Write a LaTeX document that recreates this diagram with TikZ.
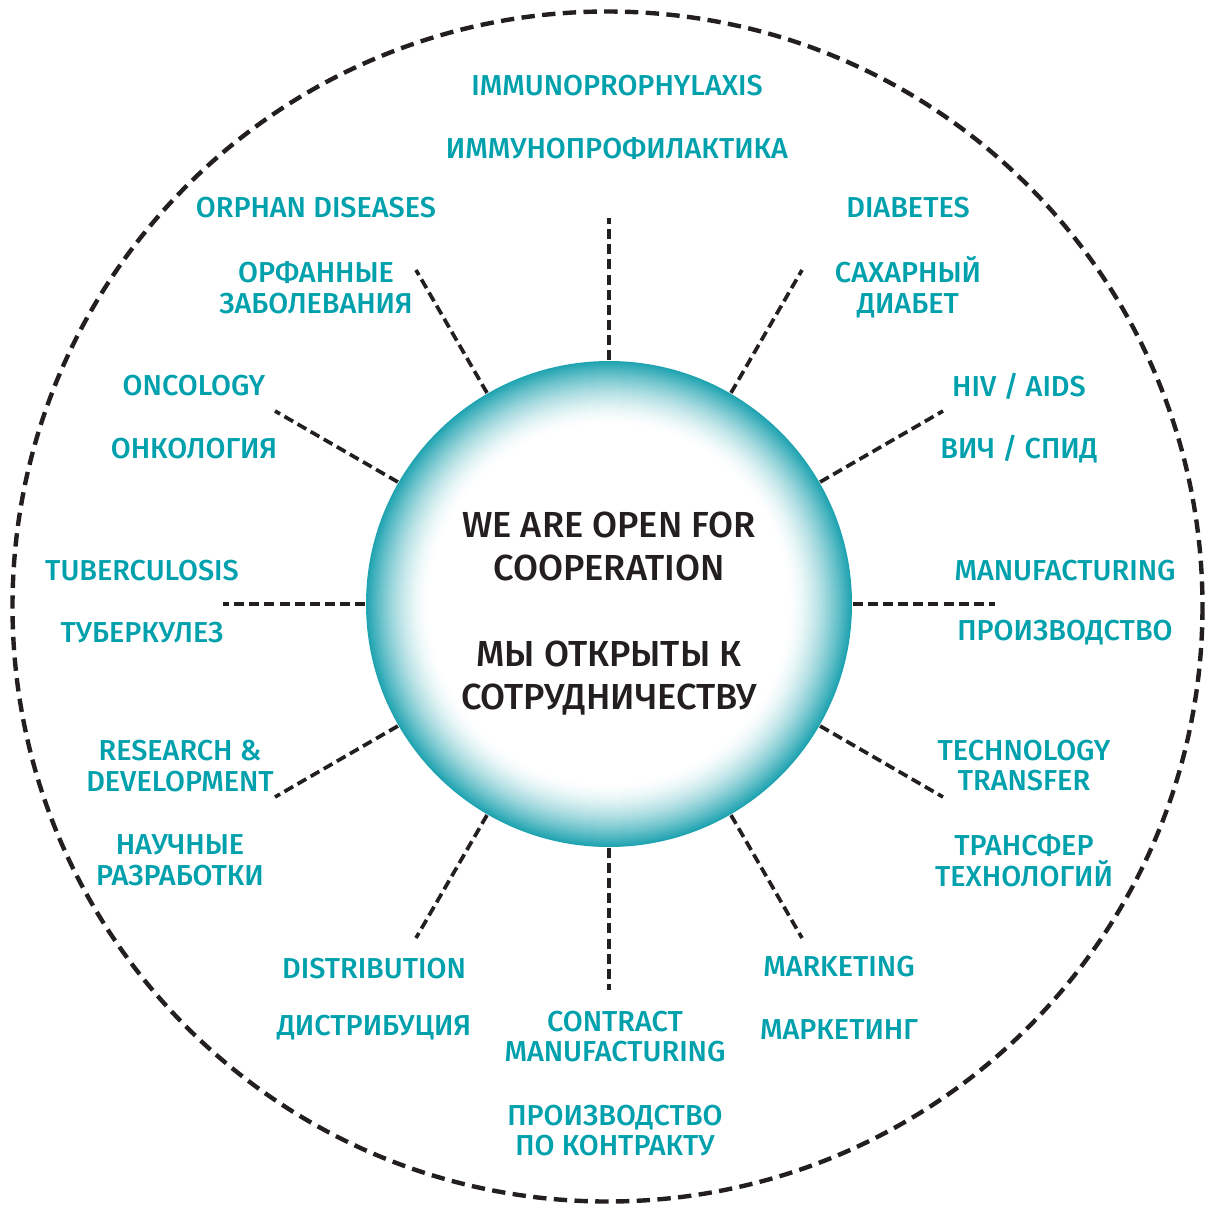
\documentclass[tikz,border=0pt]{standalone}
\usepackage{fontspec}
\setmainfont{Fira Sans}
\newfontfamily\semifont{Fira Sans}[UprightFont=* Medium]
\usepackage{xcolor}
\usepackage{tikz}
\definecolor{myteal}{RGB}{0,160,172}
\definecolor{myring}{RGB}{30,163,176}
\definecolor{myblack}{RGB}{35,31,32}
\tikzstyle{lbl} = [myteal,align=center,inner sep=0pt,font=\semifont\fontsize{8.2}{8.8}\selectfont]
\tikzstyle{midtxt} = [myblack,align=center,inner sep=0pt,font=\semifont\fontsize{10.3}{12.2}\selectfont]
\tikzstyle{spoke} = [myblack,line width=1.05pt,dash pattern=on 2.85pt off 1.45pt]
\tikzstyle{rim} = [myblack,line width=1.25pt,dash pattern=on 3.8pt off 2.1pt]

\begin{document}
\begin{tikzpicture}[x=0.01cm,y=-0.01cm]
        \useasboundingbox (0,0) rectangle (1206,1208);
        % outer ring
        \draw[rim] (607.5,606.5) circle (595);
        % hub
        \node[circle,minimum size=4.86cm,inner sep=0pt] (hub) at (609,604) {};
        \foreach \r in {243,242,...,180}{
            \pgfmathsetmacro\p{100*((\r-180)/63)^1.6}
            \fill[myring!\p!white] (hub.center) circle (\r);
        }
        \draw (609,546.5) node[midtxt] (coopEn) {WE ARE OPEN FOR\\COOPERATION};
        \draw (609,678.5) node[midtxt] (coopRu) {МЫ ОТКРЫТЫ К\\СОТРУДНИЧЕСТВУ};
        % spoke ends
        \coordinate (s90) at (609,218);
        \coordinate (s60) at (802,270);
        \coordinate (s30) at (943,411);
        \coordinate (s0) at (995,604);
        \coordinate (s-30) at (943,797);
        \coordinate (s-60) at (802,938);
        \coordinate (s-90) at (609,990);
        \coordinate (s-120) at (416,938);
        \coordinate (s-150) at (275,797);
        \coordinate (s180) at (223,604);
        \coordinate (s150) at (275,411);
        \coordinate (s120) at (416,270);
        % spokes
        \foreach \a in {90,60,30,0,-30,-60,-90,-120,-150,180,150,120}
            \draw[spoke] (hub) -- (s\a);
        % labels
        \draw (617,86) node[lbl] (immEn) {IMMUNOPROPHYLAXIS};
        \draw (617,149) node[lbl] (immRu) {ИММУНОПРОФИЛАКТИКА};
        \draw (316,208) node[lbl] (orphEn) {ORPHAN DISEASES};
        \draw (316,287.5) node[lbl] (orphRu) {ОРФАННЫЕ\\ЗАБОЛЕВАНИЯ};
        \draw (908,208) node[lbl] (diabEn) {DIABETES};
        \draw (908,287.5) node[lbl] (diabRu) {САХАРНЫЙ\\ДИАБЕТ};
        \draw (194,386) node[lbl] (oncEn) {ONCOLOGY};
        \draw (194,449) node[lbl] (oncRu) {ОНКОЛОГИЯ};
        \draw (1019,386) node[lbl] (hivEn) {HIV / AIDS};
        \draw (1019,449) node[lbl] (hivRu) {ВИЧ / СПИД};
        \draw (142,571) node[lbl] (tubEn) {TUBERCULOSIS};
        \draw (142,633) node[lbl] (tubRu) {ТУБЕРКУЛЕЗ};
        \draw (1065,571) node[lbl] (manEn) {MANUFACTURING};
        \draw (1065,633) node[lbl] (manRu) {ПРОИЗВОДСТВО};
        \draw (180,766) node[lbl] (rdEn) {RESEARCH \&\\DEVELOPMENT};
        \draw (180,860.5) node[lbl] (rdRu) {НАУЧНЫЕ\\РАЗРАБОТКИ};
        \draw (1024,765.5) node[lbl] (ttEn) {TECHNOLOGY\\TRANSFER};
        \draw (1024,860.5) node[lbl] (ttRu) {ТРАНСФЕР\\ТЕХНОЛОГИЙ};
        \draw (374,969) node[lbl] (distEn) {DISTRIBUTION};
        \draw (374,1028) node[lbl] (distRu) {ДИСТРИБУЦИЯ};
        \draw (839,967) node[lbl] (mktEn) {MARKETING};
        \draw (839,1030) node[lbl] (mktRu) {МАРКЕТИНГ};
        \draw (615,1036.5) node[lbl] (cmEn) {CONTRACT\\MANUFACTURING};
        \draw (615,1130.5) node[lbl] (cmRu) {ПРОИЗВОДСТВО\\ПО КОНТРАКТУ};
    \end{tikzpicture}
\end{document}
